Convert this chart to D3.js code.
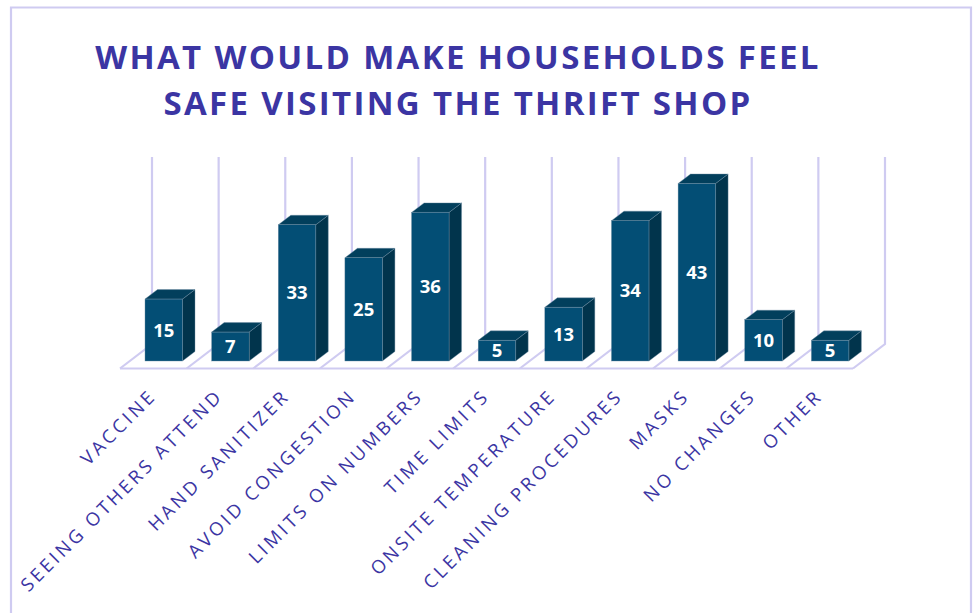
<!DOCTYPE html>
<html>
<head>
<meta charset="utf-8">
<script src="https://cdnjs.cloudflare.com/ajax/libs/d3/7.8.5/d3.min.js"></script>
<style>
  html, body { margin: 0; background: #fff; }
  svg { display: block; }
  text { font-family: "Open Sans", sans-serif; }
</style>
</head>
<body>
<svg></svg>
<script>
const categories = ["VACCINE", "SEEING OTHERS ATTEND", "HAND SANITIZER", "AVOID CONGESTION",
  "LIMITS ON NUMBERS", "TIME LIMITS", "ONSITE TEMPERATURE", "CLEANING PROCEDURES",
  "MASKS", "NO CHANGES", "OTHER"];
const values = [15, 7, 33, 25, 36, 5, 13, 34, 43, 10, 5];
const titleLines = ["WHAT WOULD MAKE HOUSEHOLDS FEEL", "SAFE VISITING THE THRIFT SHOP"];

const width = 979, height = 613;
const svg = d3.select("svg").attr("width", width).attr("height", height);

const lineColor = "#cfcbf1", textColor = "#3b35a3";
const floorY = 368.5, baseY = 361;
const depthX = 32, depthY = 24.5;     // floor skew
const barDX = 12.5, barDY = 9.5;      // bar side skew

const x = d3.scaleBand().domain(categories).range([120, 853]).paddingInner(0).paddingOuter(0);
const y = d3.scaleLinear().domain([0, 43]).range([baseY, 183.5]);
const barW = 37.5;
const barX = d => x(d) + 25;

// frame
svg.append("path")
  .attr("d", "M11,613 V7.5 H971 V613")
  .attr("fill", "none").attr("stroke", lineColor).attr("stroke-width", 2.2);

// title
svg.append("g").selectAll("text").data(titleLines).join("text")
  .attr("x", 458).attr("y", (d, i) => 69 + i * 46)
  .attr("text-anchor", "middle")
  .attr("font-size", 33).attr("font-weight", 700)
  .attr("letter-spacing", 2.33)
  .attr("fill", textColor)
  .text(d => d);

// gridlines and floor
const edges = x.domain().map(d => x(d)).concat(x.range()[1]);
const grid = svg.append("g").attr("stroke", lineColor).attr("stroke-width", 2.2).attr("fill", "none");
grid.selectAll("path").data(edges).join("path")
  .attr("d", e => `M${e},${floorY} L${e + depthX},${floorY - depthY} V157`);
grid.append("line")
  .attr("x1", x.range()[0]).attr("x2", x.range()[1])
  .attr("y1", floorY).attr("y2", floorY);

// bars
const bars = svg.append("g").selectAll("g").data(categories).join("g");
bars.append("path")
  .attr("fill", "#01344c").attr("stroke", "#6f8ea3").attr("stroke-width", 0.4)
  .attr("d", (d, i) => {
    const r = barX(d) + barW, t = y(values[i]);
    return `M${r},${baseY} V${t} l${barDX},${-barDY} V${baseY - barDY} Z`;
  });
bars.append("path")
  .attr("fill", "#023f5c").attr("stroke", "#6f8ea3").attr("stroke-width", 0.4)
  .attr("d", (d, i) => {
    const l = barX(d), t = y(values[i]);
    return `M${l},${t} l${barDX},${-barDY} h${barW} l${-barDX},${barDY} Z`;
  });
bars.append("rect")
  .attr("x", barX).attr("width", barW)
  .attr("y", (d, i) => y(values[i]))
  .attr("height", (d, i) => baseY - y(values[i]))
  .attr("fill", "#034e75").attr("stroke", "#6f8ea3").attr("stroke-width", 0.4);
bars.append("text")
  .attr("x", d => barX(d) + barW / 2)
  .attr("y", (d, i) => (y(values[i]) + baseY) / 2 + 6.5)
  .attr("text-anchor", "middle")
  .attr("font-size", 18.5).attr("font-weight", 700).attr("fill", "#fff")
  .text((d, i) => values[i]);

// category labels
svg.append("g").selectAll("text").data(categories).join("text")
  .attr("transform", d => `translate(${x(d) + 33},392.5) rotate(-45)`)
  .attr("text-anchor", "end")
  .attr("dy", "0.35em")
  .attr("font-size", 18.5).attr("letter-spacing", 3.2)
  .attr("fill", textColor)
  .text(d => d);
</script>
</body>
</html>
